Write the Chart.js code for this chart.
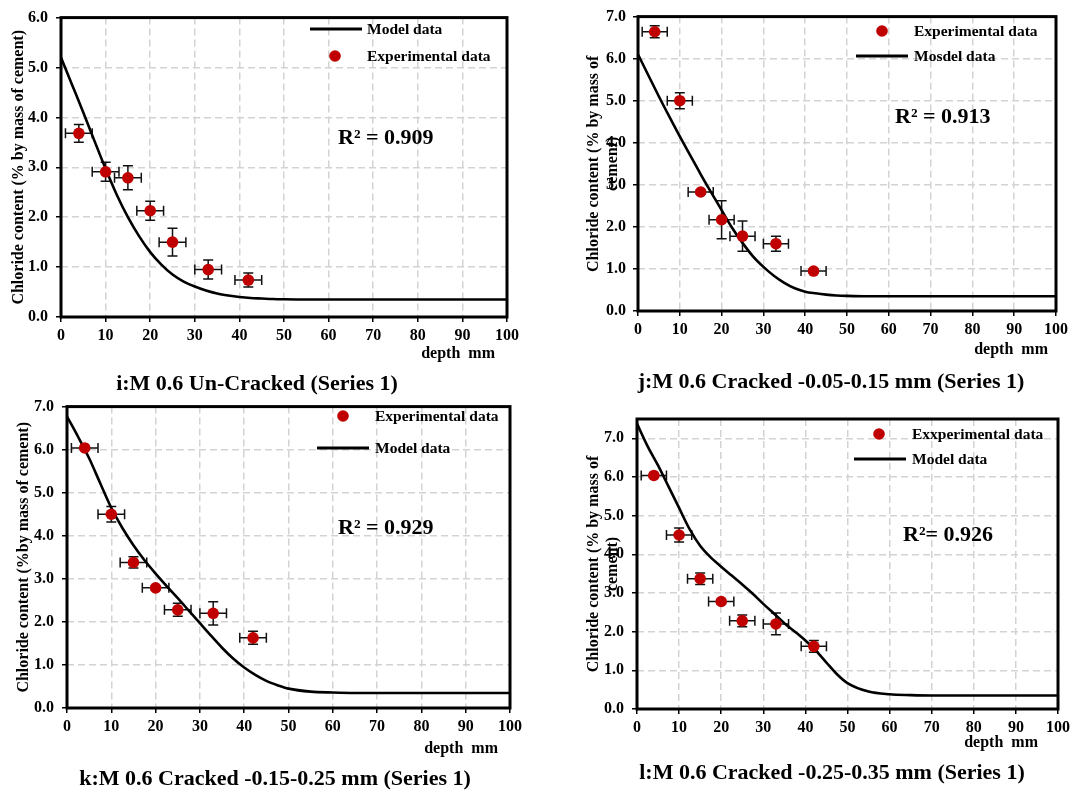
<!DOCTYPE html>
<html>
<head>
<meta charset="utf-8">
<script src="https://cdn.jsdelivr.net/npm/chart.js@4.4.1/dist/chart.umd.min.js"></script>
<style>
  body { margin: 0; background: #fff; }
  #page { position: relative; width: 1074px; height: 792px; overflow: hidden; }
  canvas { position: absolute; }
  .caption { position: absolute; width: 520px; text-align: center; font: bold 22px "Liberation Serif", "Times New Roman", serif; line-height: 24px; color: #000; white-space: nowrap; }
</style>
</head>
<body>
<div id="page">
  <canvas id="chartI" width="530" height="370" style="left:0px;top:0px"></canvas>
  <canvas id="chartJ" width="499" height="370" style="left:575px;top:0px"></canvas>
  <canvas id="chartK" width="530" height="385" style="left:0px;top:389px"></canvas>
  <canvas id="chartL" width="499" height="380" style="left:575px;top:395px"></canvas>
  <div class="caption" style="left:-3px;top:371px">i:M 0.6 Un-Cracked (Series 1)</div>
  <div class="caption" style="left:571px;top:369px">j:M 0.6 Cracked -0.05-0.15 mm (Series 1)</div>
  <div class="caption" style="left:15px;top:766px">k:M 0.6 Cracked -0.15-0.25 mm (Series 1)</div>
  <div class="caption" style="left:572px;top:760px">l:M 0.6 Cracked -0.25-0.35 mm (Series 1)</div>
</div>
<script>
// measured points (depth in mm, chloride % by mass of cement)
const depth = [4, 10, 15, 20, 25, 33, 42];
const depthErr = [3, 3, 3, 3, 3, 3, 3];

const expI = [3.68, 2.91, 2.79, 2.13, 1.50, 0.95, 0.74];
const errI = [0.18, 0.19, 0.24, 0.19, 0.28, 0.19, 0.14];
const expJ = [6.64, 5.00, 2.83, 2.17, 1.78, 1.60, 0.95];
const errJ = [0.14, 0.19, 0.05, 0.45, 0.36, 0.18, 0.05];
const expK = [6.04, 4.50, 3.38, 2.79, 2.28, 2.20, 1.63];
const errK = [0.03, 0.18, 0.13, 0.05, 0.15, 0.27, 0.15];
const expL = [6.04, 4.50, 3.37, 2.78, 2.28, 2.20, 1.62];
const errL = [0.03, 0.18, 0.15, 0.05, 0.15, 0.28, 0.15];

// model curves
const modelDepth = [0, 2.5, 5, 7.5, 10, 12.5, 15, 17.5, 20, 22.5, 25, 27.5, 30, 32.5, 35, 37.5, 40, 42.5, 45, 47.5, 50, 55, 60, 65, 70, 80, 90, 100];
const modelI = [5.2, 4.65, 4.1, 3.53, 2.97, 2.45, 2.0, 1.62, 1.3, 1.05, 0.85, 0.71, 0.61, 0.53, 0.47, 0.43, 0.40, 0.38, 0.37, 0.36, 0.355, 0.35, 0.35, 0.35, 0.35, 0.35, 0.35, 0.35];
const modelJ = [6.1, 5.6, 5.1, 4.62, 4.15, 3.7, 3.25, 2.82, 2.4, 1.98, 1.62, 1.3, 1.05, 0.84, 0.67, 0.54, 0.46, 0.42, 0.39, 0.37, 0.36, 0.35, 0.35, 0.35, 0.35, 0.35, 0.35, 0.35];
const modelK = [6.77, 6.3, 5.8, 5.22, 4.65, 4.18, 3.78, 3.43, 3.12, 2.83, 2.55, 2.26, 1.97, 1.68, 1.4, 1.15, 0.94, 0.77, 0.63, 0.53, 0.45, 0.38, 0.36, 0.35, 0.35, 0.35, 0.35, 0.35];
const modelL = [7.38, 6.8, 6.3, 5.75, 5.2, 4.65, 4.22, 3.92, 3.68, 3.45, 3.22, 2.98, 2.72, 2.47, 2.22, 2.0, 1.77, 1.51, 1.2, 0.9, 0.67, 0.45, 0.38, 0.36, 0.35, 0.35, 0.35, 0.35];

const r2Text = ['R\u00B2 = 0.909', 'R\u00B2 = 0.913', 'R\u00B2 = 0.929', 'R\u00B2= 0.926'];

const FONT = '"Liberation Serif", "Times New Roman", serif';
const RED = '#c00000';

const decoPlugin = {
  id: 'deco',
  beforeDatasetsDraw(chart) {
    const ctx = chart.ctx, a = chart.chartArea;
    const xs = chart.scales.x, ys = chart.scales.y;
    ctx.save();
    ctx.strokeStyle = '#000';
    ctx.lineWidth = 3;
    ctx.strokeRect(a.left, a.top, a.right - a.left, a.bottom - a.top);
    // error bars
    chart.data.datasets.forEach(ds => {
      if (!ds.yErr) return;
      ctx.lineWidth = 1.5;
      ctx.strokeStyle = '#111';
      ds.data.forEach((p, i) => {
        const px = xs.getPixelForValue(p.x), py = ys.getPixelForValue(p.y);
        const x1 = xs.getPixelForValue(p.x - ds.xErr[i]), x2 = xs.getPixelForValue(p.x + ds.xErr[i]);
        const y1 = ys.getPixelForValue(p.y + ds.yErr[i]), y2 = ys.getPixelForValue(p.y - ds.yErr[i]);
        const c = 5;
        ctx.beginPath();
        ctx.moveTo(x1, py); ctx.lineTo(x2, py);
        ctx.moveTo(x1, py - c); ctx.lineTo(x1, py + c);
        ctx.moveTo(x2, py - c); ctx.lineTo(x2, py + c);
        ctx.moveTo(px, y1); ctx.lineTo(px, y2);
        ctx.moveTo(px - c, y1); ctx.lineTo(px + c, y1);
        ctx.moveTo(px - c, y2); ctx.lineTo(px + c, y2);
        ctx.stroke();
      });
    });
    ctx.restore();
  },
  afterDraw(chart, args, opts) {
    const ctx = chart.ctx;
    ctx.save();
    ctx.textBaseline = 'middle';
    ctx.textAlign = 'left';
    ctx.fillStyle = '#000';
    ctx.font = 'bold 15.5px ' + FONT;
    opts.items.forEach(it => {
      const ds = chart.data.datasets[it.ds];
      if (ds.type === 'line') {
        ctx.strokeStyle = '#000';
        ctx.lineWidth = 3;
        ctx.beginPath();
        ctx.moveTo(it.x - 26, it.y); ctx.lineTo(it.x + 26, it.y);
        ctx.stroke();
      } else {
        ctx.fillStyle = RED;
        ctx.beginPath();
        ctx.arc(it.x, it.y, 5.8, 0, Math.PI * 2);
        ctx.fill();
      }
      ctx.fillStyle = '#000';
      ctx.fillText(ds.label, opts.textX, it.y + 1);
    });
    ctx.font = 'bold 22px ' + FONT;
    ctx.fillText(opts.r2.text, opts.r2.x, opts.r2.y);
    ctx.restore();
  }
};

function makePanel(id, p) {
  const tickFont = { family: FONT, size: 16, weight: 'bold' };
  const titleFont = { family: FONT, size: 16, weight: 'bold' };
  const grid = { color: '#d3d3d3', lineWidth: 1.5, tickLength: 5, tickColor: '#000', tickWidth: 1.5 };
  return new Chart(document.getElementById(id).getContext('2d'), {
    type: 'scatter',
    data: {
      datasets: [
        {
          label: p.expLabel,
          data: depth.map((d, i) => ({ x: d, y: p.exp[i] })),
          xErr: depthErr,
          yErr: p.err,
          backgroundColor: RED,
          borderColor: RED,
          pointRadius: 5.8,
          borderWidth: 0,
          order: 0
        },
        {
          type: 'line',
          label: p.modelLabel,
          data: modelDepth.map((d, i) => ({ x: d, y: p.model[i] })),
          borderColor: '#000',
          borderWidth: 2.6,
          pointRadius: 0,
          cubicInterpolationMode: 'monotone',
          fill: false,
          order: 1
        }
      ]
    },
    options: {
      responsive: false,
      animation: false,
      devicePixelRatio: 1,
      layout: { padding: p.pad },
      plugins: {
        legend: { display: false },
        tooltip: { enabled: false },
        deco: { items: p.legend, textX: p.textX, r2: p.r2 }
      },
      scales: {
        x: {
          type: 'linear', min: 0, max: 100,
          ticks: { stepSize: 10, padding: 4, color: '#000', font: tickFont, maxRotation: 0 },
          grid: grid,
          border: { display: false, dash: [7, 4] },
          title: { display: true, text: p.xTitle, align: 'end', color: '#000', font: titleFont, padding: 0 },
          afterFit: s => { s.height = p.xh; }
        },
        y: {
          min: 0, max: p.ymax,
          ticks: { stepSize: 1, includeBounds: false, padding: p.yPad, color: '#000', font: tickFont,
                   callback: v => v.toFixed(1) },
          grid: grid,
          border: { display: false, dash: [7, 4] },
          title: { display: true, text: p.yTitle, color: '#000', font: titleFont, padding: { top: p.yTitlePad, bottom: 0 } },
          afterFit: s => { s.width = p.yw; }
        }
      }
    },
    plugins: [decoPlugin]
  });
}

makePanel('chartI', {
  exp: expI, err: errI, model: modelI, ymax: 6,
  expLabel: 'Experimental data', modelLabel: 'Model data',
  pad: { left: 5, top: 15, right: 23, bottom: 7 }, xh: 46, yw: 56, yPad: 8, yTitlePad: 4.4,
  xTitle: 'depth  mm   ', yTitle: 'Chloride content (% by mass of cement)',
  legend: [{ ds: 1, x: 336, y: 29 }, { ds: 0, x: 335, y: 56 }], textX: 367,
  r2: { text: r2Text[0], x: 338, y: 138 }
});
makePanel('chartJ', {
  exp: expJ, err: errJ, model: modelJ, ymax: 7,
  expLabel: 'Experimental data', modelLabel: 'Mosdel data',
  pad: { left: 5, top: 16, right: 18, bottom: 11 }, xh: 48, yw: 58, yPad: 7, yTitlePad: 4.4,
  xTitle: 'depth  mm  ', yTitle: ['Chloride content (% by mass of', 'cement)'],
  legend: [{ ds: 0, x: 307, y: 31 }, { ds: 1, x: 307, y: 56 }], textX: 339,
  r2: { text: r2Text[1], x: 320, y: 117 }
});
makePanel('chartK', {
  exp: expK, err: errK, model: modelK, ymax: 7,
  expLabel: 'Experimental data', modelLabel: 'Model data',
  pad: { left: 5, top: 16, right: 20, bottom: 16 }, xh: 50, yw: 62, yPad: 8, yTitlePad: 8.9,
  xTitle: 'depth  mm   ', yTitle: 'Chloride content (%by mass of cement)',
  legend: [{ ds: 0, x: 343, y: 27 }, { ds: 1, x: 343, y: 59 }], textX: 375,
  r2: { text: r2Text[2], x: 338, y: 139 }
});
makePanel('chartL', {
  exp: expL, err: errL, model: modelL, ymax: 7.5,
  expLabel: 'Exxperimental data', modelLabel: 'Model data',
  pad: { left: 5, top: 24, right: 13, bottom: 23 }, xh: 43, yw: 57, yPad: 8, yTitlePad: 4.4,
  xTitle: 'depth  mm     ', yTitle: ['Chloride content (% by mass of', 'cement)'],
  legend: [{ ds: 0, x: 304, y: 39 }, { ds: 1, x: 305, y: 64 }], textX: 337,
  r2: { text: r2Text[3], x: 328, y: 140 }
});
</script>
</body>
</html>
